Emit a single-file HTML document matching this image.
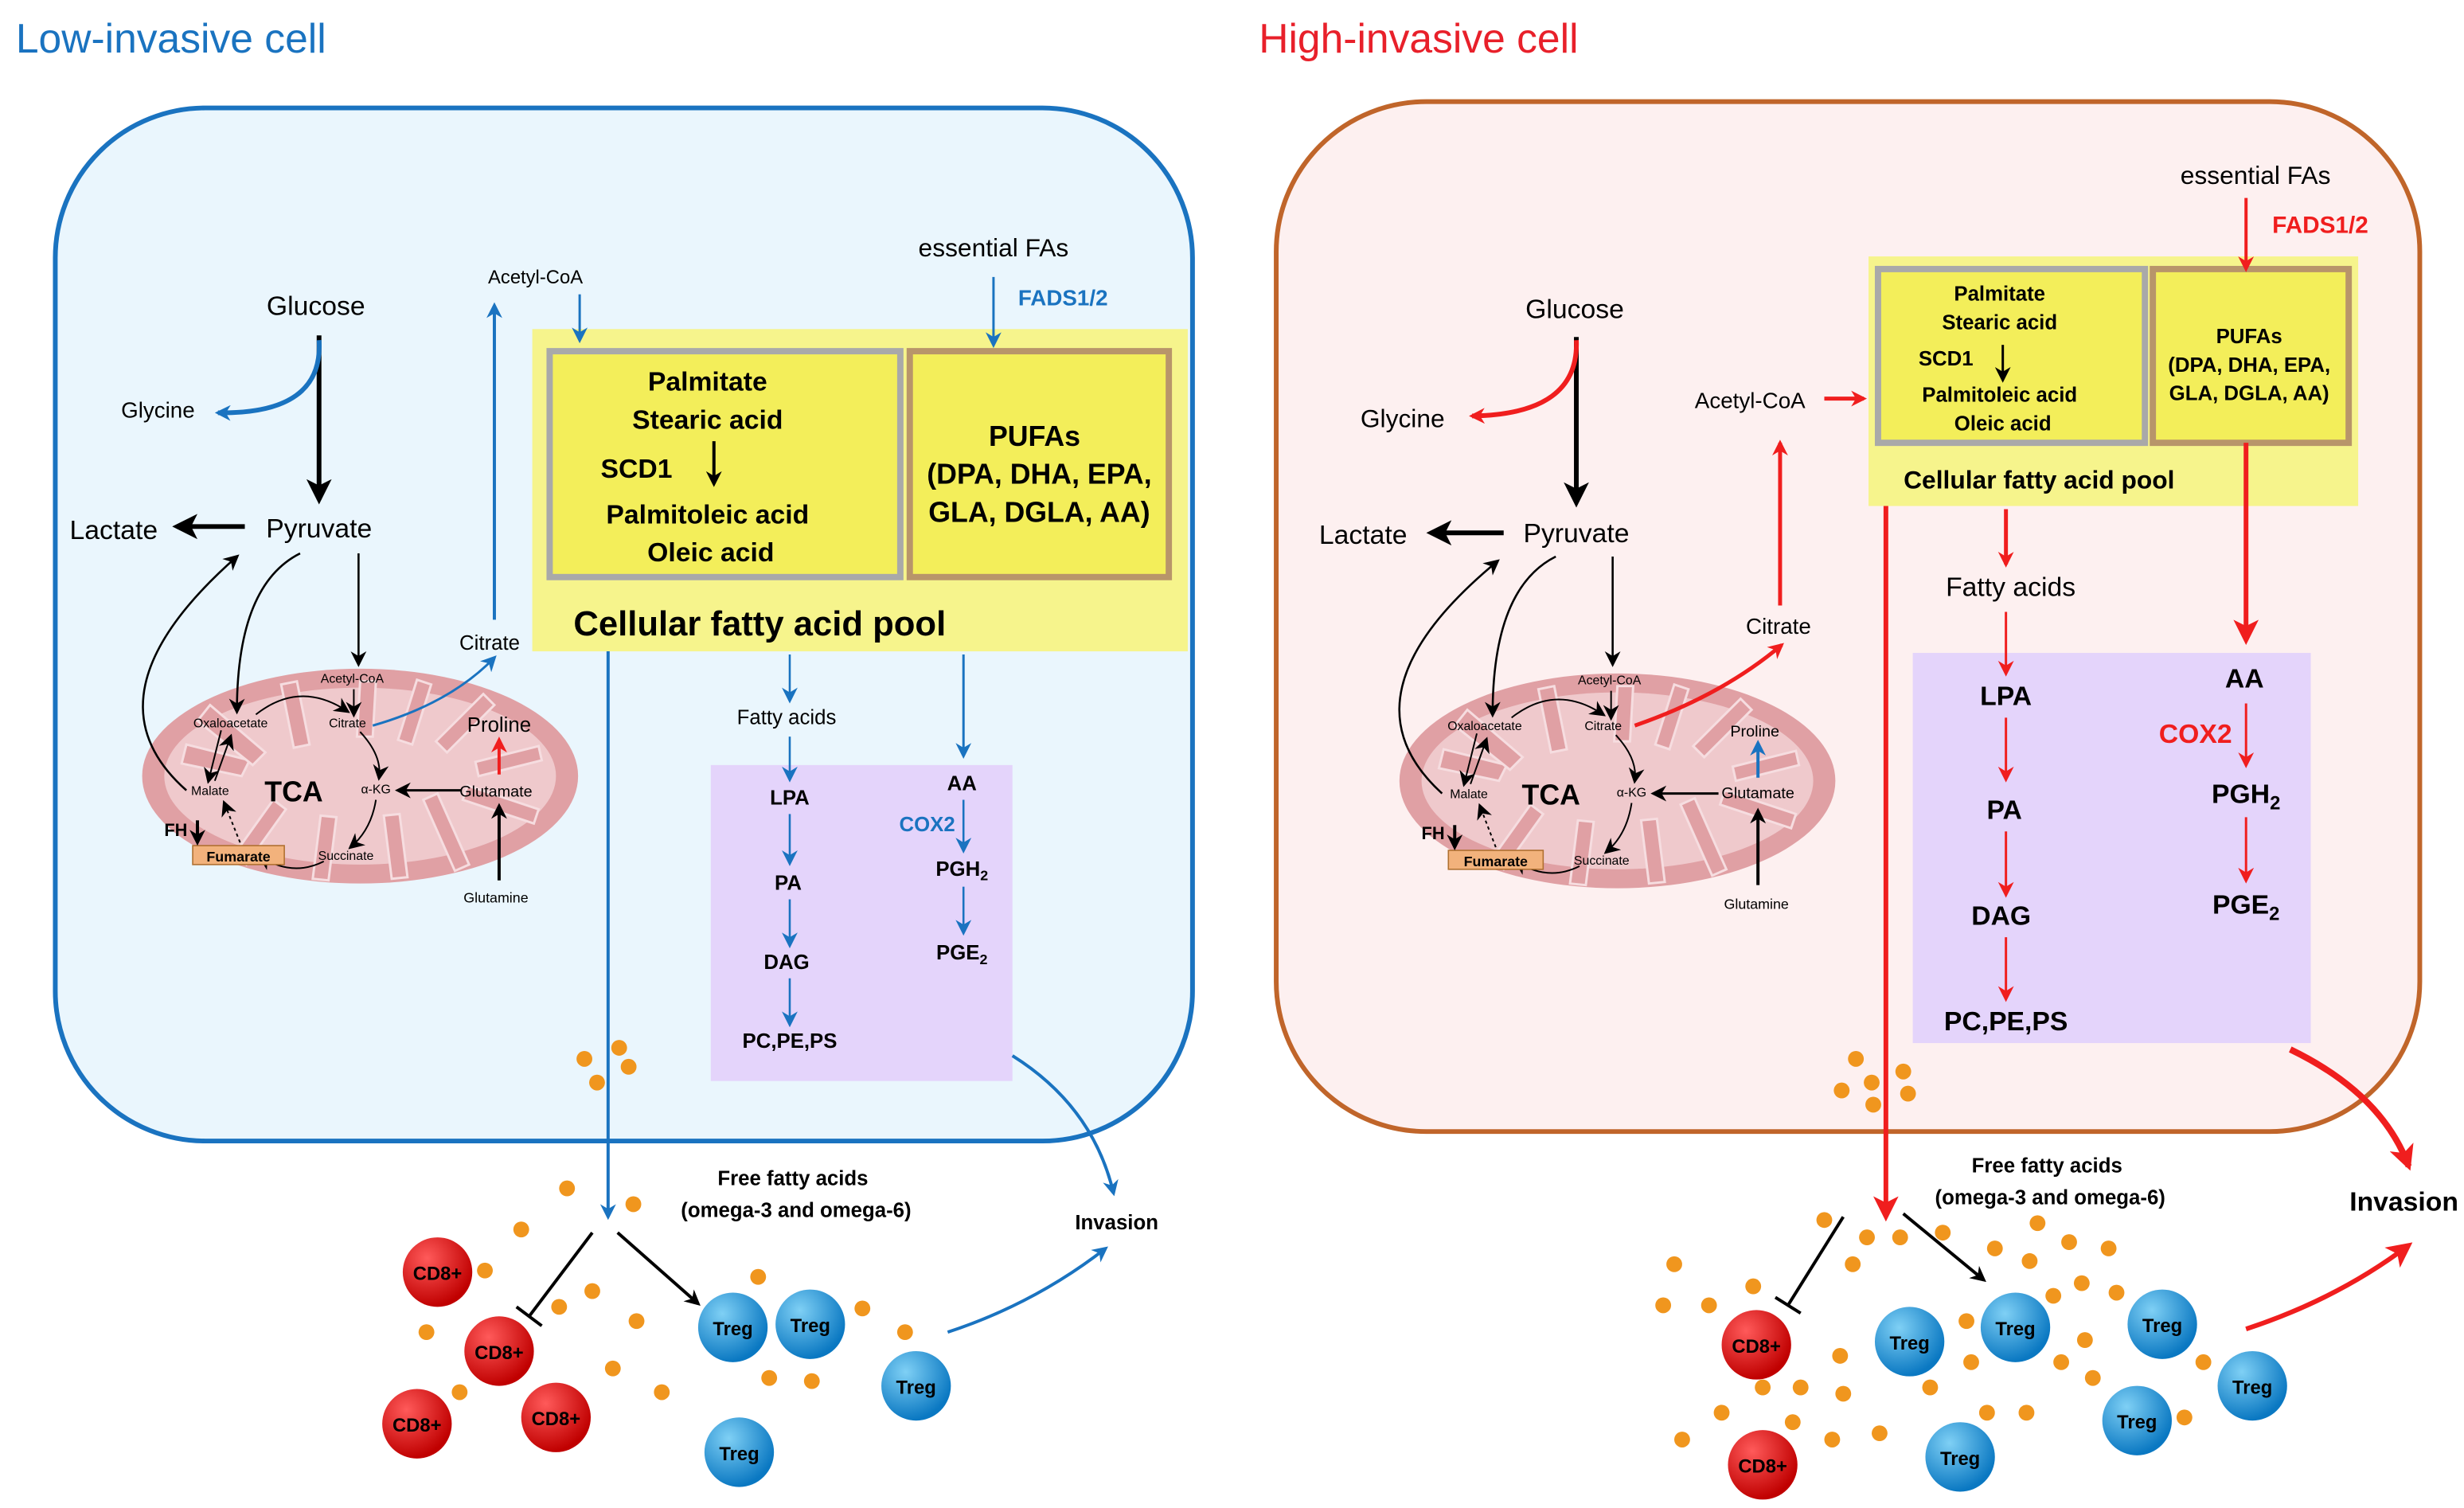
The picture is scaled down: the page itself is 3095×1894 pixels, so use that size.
<!DOCTYPE html>
<html><head><meta charset="utf-8"><style>html,body{margin:0;padding:0;background:#fff}svg{display:block}</style></head>
<body>
<svg width="3095" height="1894" viewBox="0 0 1560 954" xmlns="http://www.w3.org/2000/svg" font-family="Liberation Sans, Arial, sans-serif">
<defs>
<marker id="ak" markerWidth="10" markerHeight="10" refX="8" refY="5" orient="auto" markerUnits="userSpaceOnUse"><path d="M0,0 L10,5 L0,10 L3,5z" fill="#000"/></marker>
<marker id="akb" markerWidth="16" markerHeight="16" refX="13" refY="8" orient="auto" markerUnits="userSpaceOnUse"><path d="M0,0 L16,8 L0,16 L4,8z" fill="#000"/></marker>
<marker id="ab" markerWidth="10" markerHeight="10" refX="8" refY="5" orient="auto" markerUnits="userSpaceOnUse"><path d="M0,0 L10,5 L0,10 L3,5z" fill="#1a73c0"/></marker>
<marker id="ar" markerWidth="10" markerHeight="10" refX="8" refY="5" orient="auto" markerUnits="userSpaceOnUse"><path d="M0,0 L10,5 L0,10 L3,5z" fill="#f01e1e"/></marker>
<marker id="arb" markerWidth="16" markerHeight="16" refX="13" refY="8" orient="auto" markerUnits="userSpaceOnUse"><path d="M0,0 L16,8 L0,16 L4,8z" fill="#f01e1e"/></marker>
<radialGradient id="gt" cx="35%" cy="30%" r="70%"><stop offset="0" stop-color="#7fd0f5"/><stop offset="1" stop-color="#0a78c2"/></radialGradient>
<radialGradient id="gc" cx="35%" cy="30%" r="70%"><stop offset="0" stop-color="#ff5a5a"/><stop offset="1" stop-color="#c00000"/></radialGradient>
<g id="mito">
<ellipse cx="0" cy="0" rx="138" ry="68" fill="#e0a0a4"/>
<ellipse cx="0" cy="0" rx="124" ry="56" fill="#efc9cc"/>
<g fill="#e0a0a4" stroke="#f6dde0" stroke-width="1.5">
<path d="M-110,-20 l40,10 l-5,10 l-38,-8z"/><path d="M-95,-45 l35,30 l-8,8 l-35,-28z"/>
<path d="M-40,-60 l8,40 l-10,2 l-8,-40z"/><path d="M10,-60 l-2,35 l-10,0 l2,-35z"/>
<path d="M45,-58 l-12,38 l-9,-3 l12,-38z"/><path d="M85,-45 l-30,30 l-7,-7 l30,-30z"/>
<path d="M115,-10 l-40,10 l-2,-9 l40,-10z"/><path d="M110,30 l-45,-15 l3,-9 l45,15z"/>
<path d="M60,60 l-20,-45 l9,-4 l20,45z"/><path d="M20,65 l-5,-40 l10,-1 l5,40z"/>
<path d="M-30,65 l5,-40 l10,1 l-5,40z"/><path d="M-80,50 l25,-35 l8,6 l-25,35z"/>
</g>
</g>
</defs>
<rect width="1560" height="954" fill="#fff"/>

<!-- LEFT CELL -->
<text x="10" y="33" font-size="26" fill="#1a73c0">Low-invasive cell</text>
<rect x="35" y="68" width="720" height="654" rx="95" fill="#eaf6fd" stroke="#1a73c0" stroke-width="3"/>
<rect x="337" y="208" width="415" height="204" fill="#f6f48c"/>
<rect x="348" y="222" width="222" height="143" fill="#f3ee5a" stroke="#a9a9a9" stroke-width="4"/>
<rect x="576" y="222" width="164" height="143" fill="#f3ee5a" stroke="#b8956a" stroke-width="4"/>
<rect x="450" y="484" width="191" height="200" fill="#e4d4fb"/>
<use href="#mito" x="228" y="491"/>

<g font-size="17" text-anchor="middle">
<text x="200" y="199">Glucose</text><text x="72" y="341">Lactate</text><text x="202" y="340">Pyruvate</text>
</g>
<text x="100" y="264" font-size="14" text-anchor="middle">Glycine</text>
<line x1="202" y1="212" x2="202" y2="316" stroke="#000" stroke-width="3" marker-end="url(#akb)"/>
<path d="M202,215 Q205,262 138,261" fill="none" stroke="#1a73c0" stroke-width="3" marker-end="url(#ab)"/>
<line x1="155" y1="333" x2="112" y2="333" stroke="#000" stroke-width="3" marker-end="url(#akb)"/>
<line x1="227" y1="350" x2="227" y2="420" stroke="#000" stroke-width="1.3" marker-end="url(#ak)"/>
<path d="M190,350 Q150,370 150,450" fill="none" stroke="#000" stroke-width="1.3" marker-end="url(#ak)"/>
<path d="M118,500 Q50,440 150,352" fill="none" stroke="#000" stroke-width="1.3" marker-end="url(#ak)"/>
<g font-size="8" text-anchor="middle">
<text x="223" y="432">Acetyl-CoA</text><text x="146" y="460">Oxaloacetate</text><text x="220" y="460">Citrate</text>
<text x="133" y="503">Malate</text><text x="238" y="502">α-KG</text><text x="219" y="544">Succinate</text>
</g>
<line x1="224" y1="436" x2="224" y2="452" stroke="#000" stroke-width="1" marker-end="url(#ak)"/>
<path d="M162,452 Q190,430 220,450" fill="none" stroke="#000" stroke-width="1" marker-end="url(#ak)"/>
<path d="M228,463 Q242,478 240,492" fill="none" stroke="#000" stroke-width="1" marker-end="url(#ak)"/>
<path d="M238,506 Q235,525 222,536" fill="none" stroke="#000" stroke-width="1" marker-end="url(#ak)"/>
<path d="M205,545 Q185,555 165,542" fill="none" stroke="#000" stroke-width="1" marker-end="url(#ak)"/>
<path d="M140,462 L132,494" stroke="#000" stroke-width="1" marker-end="url(#ak)"/>
<path d="M136,494 L146,466" stroke="#000" stroke-width="1" marker-end="url(#ak)"/>
<path d="M152,533 L142,508" stroke="#000" stroke-width="1" stroke-dasharray="2,2" marker-end="url(#ak)"/>
<text x="186" y="507" font-size="18" font-weight="bold" text-anchor="middle">TCA</text>
<rect x="122" y="535" width="58" height="12" fill="#f2b27c" stroke="#b07030" stroke-width="0.8"/>
<text x="151" y="545" font-size="9" font-weight="bold" text-anchor="middle">Fumarate</text>
<text x="104" y="529" font-size="11" font-weight="bold">FH</text>
<line x1="125" y1="519" x2="125" y2="533" stroke="#000" stroke-width="2" marker-end="url(#ak)"/>
<text x="314" y="504" font-size="10" text-anchor="middle">Glutamate</text>
<text x="316" y="463" font-size="13" text-anchor="middle">Proline</text>
<text x="314" y="571" font-size="9" text-anchor="middle">Glutamine</text>
<line x1="292" y1="500" x2="252" y2="500" stroke="#000" stroke-width="1.5" marker-end="url(#ak)"/>
<line x1="316" y1="490" x2="316" y2="468" stroke="#f01e1e" stroke-width="2" marker-end="url(#ar)"/>
<line x1="316" y1="557" x2="316" y2="510" stroke="#000" stroke-width="2" marker-end="url(#ak)"/>
<path d="M236,459 Q285,445 313,416" fill="none" stroke="#1a73c0" stroke-width="1.5" marker-end="url(#ab)"/>
<text x="310" y="411" font-size="13" text-anchor="middle">Citrate</text>
<line x1="313" y1="392" x2="313" y2="193" stroke="#1a73c0" stroke-width="2" marker-end="url(#ab)"/>
<text x="339" y="179" font-size="12" text-anchor="middle">Acetyl-CoA</text>
<line x1="367" y1="186" x2="367" y2="215" stroke="#1a73c0" stroke-width="1.5" marker-end="url(#ab)"/>
<text x="629" y="162" font-size="16" text-anchor="middle">essential FAs</text>
<line x1="629" y1="175" x2="629" y2="218" stroke="#1a73c0" stroke-width="1.5" marker-end="url(#ab)"/>
<text x="673" y="193" font-size="14" font-weight="bold" fill="#1a73c0" text-anchor="middle">FADS1/2</text>
<g font-size="17" font-weight="bold" text-anchor="middle">
<text x="448" y="247">Palmitate</text><text x="448" y="271">Stearic acid</text><text x="403" y="302">SCD1</text>
<text x="448" y="331">Palmitoleic acid</text><text x="450" y="355">Oleic acid</text>
<text x="655" y="282" font-size="18">PUFAs</text><text x="658" y="306" font-size="18">(DPA, DHA, EPA,</text><text x="658" y="330" font-size="18">GLA, DGLA, AA)</text>
</g>
<line x1="452" y1="279" x2="452" y2="306" stroke="#000" stroke-width="2" marker-end="url(#ak)"/>
<text x="481" y="402" font-size="22" font-weight="bold" text-anchor="middle">Cellular fatty acid pool</text>
<line x1="385" y1="412" x2="385" y2="770" stroke="#1a73c0" stroke-width="2" marker-end="url(#ab)"/>
<line x1="500" y1="414" x2="500" y2="443" stroke="#1a73c0" stroke-width="1.3" marker-end="url(#ab)"/>
<text x="498" y="458" font-size="13" text-anchor="middle">Fatty acids</text>
<line x1="500" y1="466" x2="500" y2="493" stroke="#1a73c0" stroke-width="1.3" marker-end="url(#ab)"/>
<line x1="610" y1="414" x2="610" y2="478" stroke="#1a73c0" stroke-width="1.5" marker-end="url(#ab)"/>
<g font-size="13" font-weight="bold" text-anchor="middle">
<text x="500" y="509">LPA</text><text x="499" y="563">PA</text><text x="498" y="613">DAG</text><text x="500" y="663">PC,PE,PS</text>
<text x="609" y="500">AA</text><text x="609" y="554">PGH<tspan font-size="9" dy="3">2</tspan></text><text x="609" y="607">PGE<tspan font-size="9" dy="3">2</tspan></text>
<text x="587" y="526" fill="#1a73c0">COX2</text>
</g>
<g stroke="#1a73c0" stroke-width="1.3">
<line x1="500" y1="515" x2="500" y2="546" marker-end="url(#ab)"/><line x1="500" y1="569" x2="500" y2="598" marker-end="url(#ab)"/>
<line x1="500" y1="619" x2="500" y2="648" marker-end="url(#ab)"/><line x1="610" y1="506" x2="610" y2="538" marker-end="url(#ab)"/>
<line x1="610" y1="561" x2="610" y2="590" marker-end="url(#ab)"/>
</g>
<path d="M641,668 Q692,700 705,755" fill="none" stroke="#1a73c0" stroke-width="2" marker-end="url(#ab)"/>
<text x="707" y="778" font-size="13" font-weight="bold" text-anchor="middle">Invasion</text>
<text x="502" y="750" font-size="13" font-weight="bold" text-anchor="middle">Free fatty acids</text>
<text x="504" y="770" font-size="13" font-weight="bold" text-anchor="middle">(omega-3 and omega-6)</text>
<line x1="375" y1="780" x2="335" y2="833" stroke="#000" stroke-width="2"/>
<line x1="327" y1="827" x2="343" y2="839" stroke="#000" stroke-width="2"/>
<line x1="391" y1="780" x2="442" y2="825" stroke="#000" stroke-width="2" marker-end="url(#ak)"/>
<path d="M600,843 Q655,825 700,790" fill="none" stroke="#1a73c0" stroke-width="2" marker-end="url(#ab)"/>
<g fill="#f0961e">
<circle cx="370" cy="670" r="5"/><circle cx="392" cy="663" r="5"/><circle cx="398" cy="675" r="5"/><circle cx="378" cy="685" r="5"/>
<circle cx="359" cy="752" r="5"/><circle cx="330" cy="778" r="5"/><circle cx="307" cy="804" r="5"/><circle cx="375" cy="817" r="5"/>
<circle cx="401" cy="762" r="5"/><circle cx="480" cy="808" r="5"/><circle cx="403" cy="836" r="5"/><circle cx="388" cy="866" r="5"/>
<circle cx="291" cy="881" r="5"/><circle cx="270" cy="843" r="5"/><circle cx="419" cy="881" r="5"/><circle cx="487" cy="872" r="5"/>
<circle cx="514" cy="874" r="5"/><circle cx="546" cy="828" r="5"/><circle cx="573" cy="843" r="5"/><circle cx="354" cy="827" r="5"/>
</g>
<g font-size="12" font-weight="bold" fill="#000" text-anchor="middle">
<circle cx="277" cy="805" r="22" fill="url(#gc)"/><text x="277" y="810">CD8+</text>
<circle cx="316" cy="855" r="22" fill="url(#gc)"/><text x="316" y="860">CD8+</text>
<circle cx="264" cy="901" r="22" fill="url(#gc)"/><text x="264" y="906">CD8+</text>
<circle cx="352" cy="897" r="22" fill="url(#gc)"/><text x="352" y="902">CD8+</text>
<circle cx="464" cy="840" r="22" fill="url(#gt)"/><text x="464" y="845">Treg</text>
<circle cx="513" cy="838" r="22" fill="url(#gt)"/><text x="513" y="843">Treg</text>
<circle cx="580" cy="877" r="22" fill="url(#gt)"/><text x="580" y="882">Treg</text>
<circle cx="468" cy="919" r="22" fill="url(#gt)"/><text x="468" y="924">Treg</text>
</g>

<!-- RIGHT CELL -->
<text x="797" y="33" font-size="26" fill="#e8202a">High-invasive cell</text>
<rect x="808" y="64" width="724" height="652" rx="95" fill="#fdf0f0" stroke="#c0652a" stroke-width="3"/>
<rect x="1183" y="162" width="310" height="158" fill="#f6f48c"/>
<rect x="1189" y="170" width="169" height="110" fill="#f3ee5a" stroke="#a9a9a9" stroke-width="4"/>
<rect x="1363" y="170" width="124" height="110" fill="#f3ee5a" stroke="#b8956a" stroke-width="4"/>
<rect x="1211" y="413" width="252" height="247" fill="#e4d4fb"/>
<use href="#mito" x="1024" y="494"/>

<g font-size="17" text-anchor="middle">
<text x="997" y="201">Glucose</text><text x="863" y="344">Lactate</text><text x="998" y="343">Pyruvate</text>
</g>
<text x="888" y="270" font-size="16" text-anchor="middle">Glycine</text>
<line x1="998" y1="213" x2="998" y2="318" stroke="#000" stroke-width="3" marker-end="url(#akb)"/>
<path d="M998,215 Q1000,262 932,263" fill="none" stroke="#f01e1e" stroke-width="3" marker-end="url(#ar)"/>
<line x1="952" y1="337" x2="906" y2="337" stroke="#000" stroke-width="3" marker-end="url(#akb)"/>
<line x1="1021" y1="352" x2="1021" y2="420" stroke="#000" stroke-width="1.3" marker-end="url(#ak)"/>
<path d="M985,352 Q945,372 945,452" fill="none" stroke="#000" stroke-width="1.3" marker-end="url(#ak)"/>
<path d="M913,502 Q845,440 948,355" fill="none" stroke="#000" stroke-width="1.3" marker-end="url(#ak)"/>
<g font-size="8" text-anchor="middle">
<text x="1019" y="433">Acetyl-CoA</text><text x="940" y="462">Oxaloacetate</text><text x="1015" y="462">Citrate</text>
<text x="930" y="505">Malate</text><text x="1033" y="504">α-KG</text><text x="1014" y="547">Succinate</text>
</g>
<line x1="1020" y1="437" x2="1020" y2="454" stroke="#000" stroke-width="1" marker-end="url(#ak)"/>
<path d="M957,454 Q985,432 1015,452" fill="none" stroke="#000" stroke-width="1" marker-end="url(#ak)"/>
<path d="M1023,465 Q1037,480 1035,494" fill="none" stroke="#000" stroke-width="1" marker-end="url(#ak)"/>
<path d="M1033,508 Q1030,528 1017,539" fill="none" stroke="#000" stroke-width="1" marker-end="url(#ak)"/>
<path d="M1000,548 Q980,558 960,545" fill="none" stroke="#000" stroke-width="1" marker-end="url(#ak)"/>
<path d="M935,464 L927,496" stroke="#000" stroke-width="1" marker-end="url(#ak)"/>
<path d="M931,496 L941,468" stroke="#000" stroke-width="1" marker-end="url(#ak)"/>
<path d="M947,536 L937,510" stroke="#000" stroke-width="1" stroke-dasharray="2,2" marker-end="url(#ak)"/>
<text x="982" y="509" font-size="18" font-weight="bold" text-anchor="middle">TCA</text>
<rect x="917" y="538" width="60" height="12" fill="#f2b27c" stroke="#b07030" stroke-width="0.8"/>
<text x="947" y="548" font-size="9" font-weight="bold" text-anchor="middle">Fumarate</text>
<text x="900" y="531" font-size="11" font-weight="bold">FH</text>
<line x1="921" y1="522" x2="921" y2="536" stroke="#000" stroke-width="2" marker-end="url(#ak)"/>
<text x="1113" y="505" font-size="10" text-anchor="middle">Glutamate</text>
<text x="1111" y="466" font-size="10" text-anchor="middle">Proline</text>
<text x="1112" y="575" font-size="9" text-anchor="middle">Glutamine</text>
<line x1="1088" y1="502" x2="1047" y2="502" stroke="#000" stroke-width="1.5" marker-end="url(#ak)"/>
<line x1="1113" y1="492" x2="1113" y2="470" stroke="#1a73c0" stroke-width="2" marker-end="url(#ab)"/>
<line x1="1113" y1="560" x2="1113" y2="513" stroke="#000" stroke-width="2" marker-end="url(#ak)"/>
<path d="M1035,459 Q1090,440 1128,408" fill="none" stroke="#f01e1e" stroke-width="2.5" marker-end="url(#ar)"/>
<text x="1126" y="401" font-size="14" text-anchor="middle">Citrate</text>
<line x1="1127" y1="383" x2="1127" y2="280" stroke="#f01e1e" stroke-width="2.5" marker-end="url(#ar)"/>
<text x="1108" y="258" font-size="14" text-anchor="middle">Acetyl-CoA</text>
<line x1="1155" y1="252" x2="1180" y2="252" stroke="#f01e1e" stroke-width="2.5" marker-end="url(#ar)"/>
<text x="1428" y="116" font-size="16" text-anchor="middle">essential FAs</text>
<line x1="1422" y1="125" x2="1422" y2="170" stroke="#f01e1e" stroke-width="2" marker-end="url(#ar)"/>
<text x="1469" y="147" font-size="15" font-weight="bold" fill="#f01e1e" text-anchor="middle">FADS1/2</text>
<g font-size="13" font-weight="bold" text-anchor="middle">
<text x="1266" y="190">Palmitate</text><text x="1266" y="208">Stearic acid</text><text x="1232" y="231">SCD1</text>
<text x="1266" y="254">Palmitoleic acid</text><text x="1268" y="272">Oleic acid</text>
<text x="1424" y="217">PUFAs</text><text x="1424" y="235">(DPA, DHA, EPA,</text><text x="1424" y="253">GLA, DGLA, AA)</text>
</g>
<line x1="1268" y1="218" x2="1268" y2="240" stroke="#000" stroke-width="1.5" marker-end="url(#ak)"/>
<text x="1291" y="309" font-size="16" font-weight="bold" text-anchor="middle">Cellular fatty acid pool</text>
<line x1="1194" y1="320" x2="1194" y2="770" stroke="#f01e1e" stroke-width="3" marker-end="url(#arb)"/>
<line x1="1270" y1="322" x2="1270" y2="357" stroke="#f01e1e" stroke-width="2.5" marker-end="url(#ar)"/>
<text x="1273" y="377" font-size="17" text-anchor="middle">Fatty acids</text>
<line x1="1270" y1="387" x2="1270" y2="426" stroke="#f01e1e" stroke-width="1.5" marker-end="url(#ar)"/>
<line x1="1422" y1="280" x2="1422" y2="405" stroke="#f01e1e" stroke-width="3" marker-end="url(#arb)"/>
<g font-size="17" font-weight="bold" text-anchor="middle">
<text x="1270" y="446">LPA</text><text x="1269" y="518">PA</text><text x="1267" y="585">DAG</text><text x="1270" y="652">PC,PE,PS</text>
<text x="1421" y="435">AA</text><text x="1422" y="508">PGH<tspan font-size="12" dy="4">2</tspan></text><text x="1422" y="578">PGE<tspan font-size="12" dy="4">2</tspan></text>
<text x="1390" y="470" fill="#f01e1e">COX2</text>
</g>
<g stroke="#f01e1e" stroke-width="1.5">
<line x1="1270" y1="454" x2="1270" y2="493" marker-end="url(#ar)"/><line x1="1270" y1="526" x2="1270" y2="566" marker-end="url(#ar)"/>
<line x1="1270" y1="593" x2="1270" y2="632" marker-end="url(#ar)"/><line x1="1422" y1="445" x2="1422" y2="484" marker-end="url(#ar)"/>
<line x1="1422" y1="517" x2="1422" y2="557" marker-end="url(#ar)"/>
</g>
<path d="M1450,664 Q1508,692 1525,738" fill="none" stroke="#f01e1e" stroke-width="4" marker-end="url(#arb)"/>
<text x="1522" y="766" font-size="17" font-weight="bold" text-anchor="middle">Invasion</text>
<text x="1296" y="742" font-size="13" font-weight="bold" text-anchor="middle">Free fatty acids</text>
<text x="1298" y="762" font-size="13" font-weight="bold" text-anchor="middle">(omega-3 and omega-6)</text>
<line x1="1167" y1="770" x2="1132" y2="826" stroke="#000" stroke-width="2"/>
<line x1="1124" y1="821" x2="1140" y2="831" stroke="#000" stroke-width="2"/>
<line x1="1205" y1="768" x2="1256" y2="810" stroke="#000" stroke-width="2" marker-end="url(#ak)"/>
<path d="M1422,841 Q1480,822 1525,788" fill="none" stroke="#f01e1e" stroke-width="3" marker-end="url(#arb)"/>
<g fill="#f0961e">
<circle cx="1175" cy="670" r="5"/><circle cx="1205" cy="678" r="5"/><circle cx="1166" cy="690" r="5"/><circle cx="1185" cy="685" r="5"/><circle cx="1208" cy="692" r="5"/><circle cx="1186" cy="699" r="5"/>
<circle cx="1155" cy="772" r="5"/><circle cx="1182" cy="783" r="5"/><circle cx="1203" cy="783" r="5"/><circle cx="1230" cy="780" r="5"/><circle cx="1290" cy="774" r="5"/>
<circle cx="1263" cy="790" r="5"/><circle cx="1285" cy="798" r="5"/><circle cx="1310" cy="786" r="5"/><circle cx="1335" cy="790" r="5"/><circle cx="1318" cy="812" r="5"/>
<circle cx="1340" cy="818" r="5"/><circle cx="1300" cy="820" r="5"/><circle cx="1060" cy="800" r="5"/><circle cx="1110" cy="814" r="5"/><circle cx="1053" cy="826" r="5"/>
<circle cx="1082" cy="826" r="5"/><circle cx="1173" cy="800" r="5"/><circle cx="1245" cy="836" r="5"/><circle cx="1165" cy="858" r="5"/><circle cx="1116" cy="878" r="5"/>
<circle cx="1140" cy="878" r="5"/><circle cx="1167" cy="882" r="5"/><circle cx="1090" cy="894" r="5"/><circle cx="1135" cy="900" r="5"/><circle cx="1065" cy="911" r="5"/>
<circle cx="1160" cy="911" r="5"/><circle cx="1190" cy="907" r="5"/><circle cx="1222" cy="878" r="5"/><circle cx="1258" cy="894" r="5"/><circle cx="1283" cy="894" r="5"/>
<circle cx="1248" cy="862" r="5"/><circle cx="1305" cy="862" r="5"/><circle cx="1320" cy="848" r="5"/><circle cx="1325" cy="872" r="5"/><circle cx="1395" cy="862" r="5"/>
<circle cx="1383" cy="897" r="5"/><circle cx="1218" cy="835" r="5"/>
</g>
<g font-size="12" font-weight="bold" fill="#000" text-anchor="middle">
<circle cx="1112" cy="851" r="22" fill="url(#gc)"/><text x="1112" y="856">CD8+</text>
<circle cx="1116" cy="927" r="22" fill="url(#gc)"/><text x="1116" y="932">CD8+</text>
<circle cx="1209" cy="849" r="22" fill="url(#gt)"/><text x="1209" y="854">Treg</text>
<circle cx="1276" cy="840" r="22" fill="url(#gt)"/><text x="1276" y="845">Treg</text>
<circle cx="1369" cy="838" r="22" fill="url(#gt)"/><text x="1369" y="843">Treg</text>
<circle cx="1426" cy="877" r="22" fill="url(#gt)"/><text x="1426" y="882">Treg</text>
<circle cx="1353" cy="899" r="22" fill="url(#gt)"/><text x="1353" y="904">Treg</text>
<circle cx="1241" cy="922" r="22" fill="url(#gt)"/><text x="1241" y="927">Treg</text>
</g>
</svg>
</body></html>
